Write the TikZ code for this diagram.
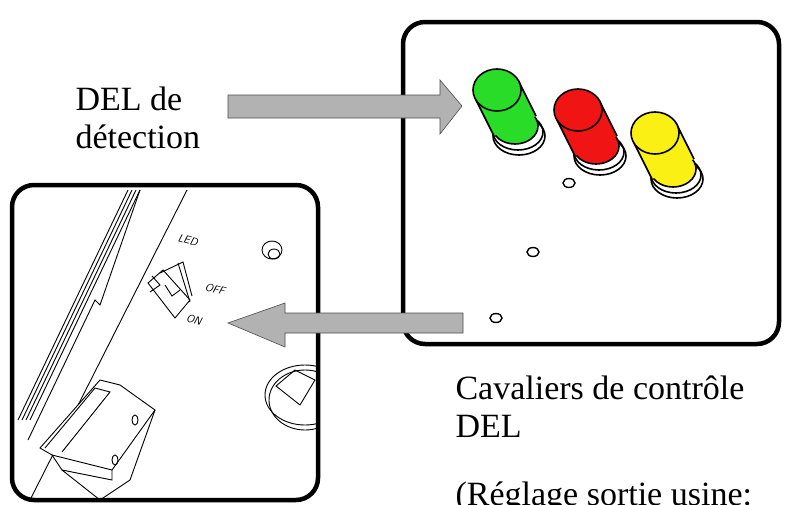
\documentclass[tikz,border=0pt]{standalone}
\usepackage{fontspec}
\setmainfont{Liberation Serif}
\definecolor{ledgreen}{RGB}{40,220,40}
\definecolor{ledred}{RGB}{240,20,20}
\definecolor{ledyellow}{RGB}{250,240,20}
\tikzset{
  panel/.style={line width=4.5pt, rounded corners=22pt},
  bigarrow/.style={fill=black!30, draw=black!70, line width=0.6pt},
  caption/.style={font=\fontsize{34}{38}\selectfont, align=left, anchor=west},
  thin/.style={line width=0.9pt},
  marking/.style={font=\sffamily\itshape\fontsize{11}{11}\selectfont, rotate=-15, inner sep=0pt},
}
\newcommand{\ledlamp}[3]{% top x, top y, colour
  \draw[line width=1.6pt] (#1+22,#2+46) ellipse (26pt and 19pt);
  \draw[line width=1.6pt] (#1+21,#2+42) ellipse (25pt and 18pt);
  \draw[line width=1.6pt, fill=#3] (#1+18,#2+36) ellipse (23pt and 18pt);
  \fill[#3] (#1-21,#2+10) -- (#1+21,#2-10) -- (#1+39,#2+26) -- (#1-3,#2+46) -- cycle;
  \draw[line width=1.6pt] (#1-21,#2+10) -- (#1-3,#2+46) (#1+21,#2-10) -- (#1+39,#2+26);
  \draw[line width=1.6pt, fill=#3] (#1,#2) ellipse (24pt and 21pt);
}
\begin{document}
\begin{tikzpicture}[x=1pt,y=-1pt]
\useasboundingbox (0,0) rectangle (787,504);
\begin{scope}
\clip (0,0) rectangle (787,504);
% LED panel
\draw[panel] (403,22) rectangle (779,344);
\ledlamp{497}{90}{ledgreen}
\ledlamp{578}{110}{ledred}
\ledlamp{655}{133}{ledyellow}
\foreach \hx/\hy in {569/183, 533/252, 496/318}
  \draw[line width=1.4pt] (\hx,\hy) ellipse (6pt and 4.5pt);
% jumper panel
\begin{scope}
\clip[rounded corners=22pt] (12,185) rectangle (318,500);
\foreach \d in {0,4,8,12}
  \draw[thin] (18+\d,420) -- (128+\d,190);
\draw[thin] (28,440) -- (95,300) -- (100,305) -- (140,190);
\draw[thin] (30,500) -- (187,190);
% jumper
\draw[thin, fill=white] (148,283) -- (163,270) -- (190,300) -- (175,318) -- cycle;
\draw[thin] (160,273) -- (183,262) -- (192,296);
\draw[thin] (152,276) -- (160,285) -- (150,292);
\draw[thin] (165,285) -- (172,296) -- (180,290);
\draw[thin] (178,263) -- (190,302);
\node[marking] (ledtxt) at (188,240) {LED};
\node[marking] (offtxt) at (215,289) {OFF};
\node[marking] (ontxt) at (194,320) {ON};
\draw[thin] (272,250) ellipse (10pt and 9pt);
\draw[thin] (274,254) ellipse (6pt and 5pt);
% switch
\draw[thin, fill=white] (40,448) -- (100,380) -- (120,385) -- (155,410) -- (112,470) -- (52,455) -- cycle;
\draw[thin] (52,455) -- (62,470) -- (112,480) -- (112,470);
\draw[thin] (45,448) -- (95,388) -- (110,392) -- (62,452);
\draw[thin] (62,470) -- (100,500) -- (130,480) -- (155,410);
\draw[thin] (135,420) ellipse (3pt and 5pt);
\draw[thin] (115,460) ellipse (3pt and 5pt);
% knob
\draw[thin] (305,395) ellipse (40pt and 30pt);
\draw[thin] (305,400) ellipse (36pt and 30pt);
\draw[thin] (276,386) -- (295,370) -- (315,380) -- (300,405) -- cycle;
\end{scope}
\draw[panel] (12,185) rectangle (318,500);
% arrows
\draw[bigarrow] (228,95) -- (440,95) -- (440,80) -- (462,106) -- (440,134) -- (440,118) -- (228,118) -- cycle;
\draw[bigarrow] (463,313) -- (285,313) -- (285,303) -- (228,323) -- (285,347) -- (285,333) -- (463,333) -- cycle;
% labels
\node[caption] (detlabel) at (72,118) {DEL de\\détection};
\node[caption, anchor=north west] (jmplabel) at (452,372) {Cavaliers de contrôle\\DEL\\[30pt](Réglage sortie usine:};
\end{scope}
\end{tikzpicture}
\end{document}
